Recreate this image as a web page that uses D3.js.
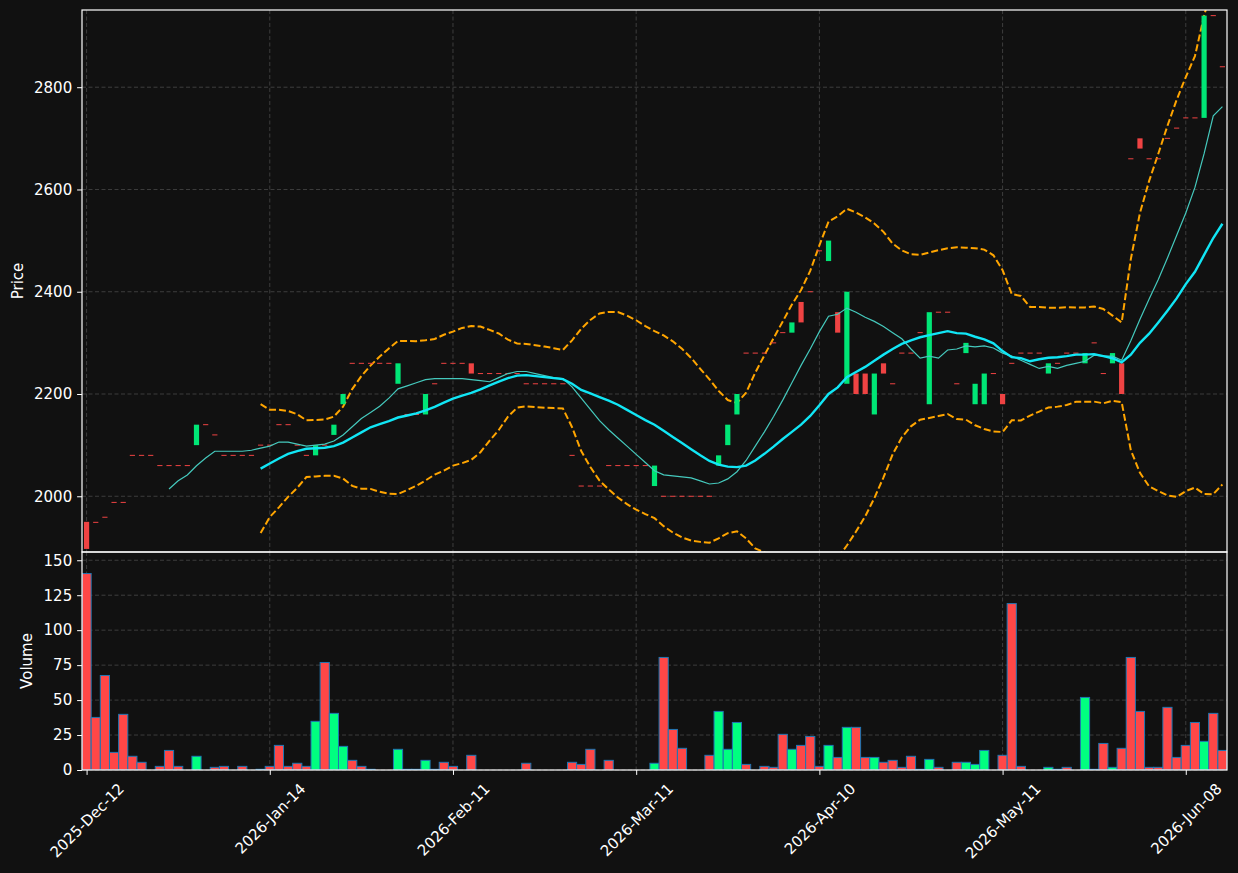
<!DOCTYPE html>
<html>
<head>
<meta charset="utf-8">
<script src="https://cdn.jsdelivr.net/npm/d3@7"></script>
<style>
  body { margin: 0; background: #111111; }
  svg { display: block; font-family: "DejaVu Sans", sans-serif; }
</style>
</head>
<body>
<div id="chart"></div>
<script>
// ---- data (one entry per trading bar) ----
const opens = [
  1950, 1949, 1959, 1988, 1988, 2080, 2080, 2080, 2060, 2060,
  2060, 2060, 2100, 2140, 2120, 2080, 2080, 2080, 2080, 2100,
  2100, 2140, 2140, 2100, 2080, 2080, 2100, 2120, 2180, 2260,
  2260, 2260, 2260, 2260, 2220, 2160, 2160, 2160, 2220, 2260,
  2260, 2260, 2260, 2240, 2240, 2240, 2240, 2240, 2220, 2220,
  2220, 2220, 2220, 2080, 2020, 2020, 2020, 2060, 2060, 2060,
  2060, 2060, 2020, 2000, 2000, 2000, 2000, 2000, 2000, 2060,
  2100, 2160, 2280, 2280, 2280, 2300, 2320, 2320, 2380, 2400,
  2480, 2460, 2360, 2220, 2240, 2240, 2160, 2260, 2220, 2280,
  2280, 2320, 2180, 2360, 2360, 2220, 2280, 2180, 2180, 2240,
  2200, 2260, 2280, 2280, 2280, 2240, 2260, 2280, 2280, 2260,
  2300, 2240, 2260, 2260, 2660, 2700, 2660, 2660, 2700, 2720,
  2740, 2740, 2740, 2940, 2840
];
const closes = [
  1897, 1949, 1959, 1988, 1988, 2080, 2080, 2080, 2060, 2060,
  2060, 2060, 2140, 2140, 2120, 2080, 2080, 2080, 2080, 2100,
  2100, 2140, 2140, 2100, 2080, 2100, 2100, 2140, 2200, 2260,
  2260, 2260, 2260, 2260, 2260, 2160, 2160, 2200, 2220, 2260,
  2260, 2260, 2240, 2240, 2240, 2240, 2240, 2240, 2220, 2220,
  2220, 2220, 2220, 2080, 2020, 2020, 2020, 2060, 2060, 2060,
  2060, 2060, 2060, 2000, 2000, 2000, 2000, 2000, 2000, 2080,
  2140, 2200, 2280, 2280, 2280, 2300, 2320, 2340, 2340, 2400,
  2480, 2500, 2320, 2400, 2200, 2200, 2240, 2240, 2220, 2280,
  2280, 2320, 2360, 2360, 2360, 2220, 2300, 2220, 2240, 2240,
  2180, 2260, 2280, 2280, 2280, 2260, 2260, 2280, 2280, 2280,
  2300, 2240, 2280, 2200, 2660, 2680, 2660, 2660, 2700, 2720,
  2740, 2740, 2940, 2940, 2840
];
const volumes = [
  140.5, 37.6, 67.6, 12.6, 39.8, 9.8, 5.5, 0, 2.6, 14,
  2.6, 0, 9.8, 0, 1.9, 2.6, 0, 2.6, 0, 0.5,
  2.6, 17.6, 2.6, 4.8, 2.6, 34.8, 76.9, 40.5, 16.9, 6.9,
  2.6, 0.5, 0, 0, 14.8, 0.5, 0.5, 6.9, 0.5, 5.5,
  2.6, 0, 10.5, 0, 0, 0, 0, 0, 4.8, 0,
  0, 0, 0, 5.5, 4, 14.8, 0, 6.9, 0, 0,
  0, 0, 4.8, 80.5, 29, 15.5, 0, 0, 10.5, 41.9,
  14.8, 34, 4, 0, 2.6, 1.9, 25.5, 14.8, 17.6, 24,
  2.6, 17.6, 9, 30.5, 30.5, 9, 9, 5.5, 6.9, 1.9,
  9.8, 0.5, 7.6, 1.9, 0, 5.5, 5.5, 4, 14, 0,
  10.5, 119, 2.6, 0, 0, 1.9, 0.5, 1.9, 0, 51.9,
  0.5, 19, 1.9, 15.5, 80.5, 41.9, 1.9, 1.9, 44.8, 9,
  17.6, 34, 20.5, 40.5, 14
];

// short moving average, first value sits on bar 9
const maShortStart = 9;
const maShort = [
  2014.1, 2030.4, 2041.5, 2059.6, 2074.8, 2088, 2088, 2088, 2088, 2090,
  2094, 2098, 2106, 2106, 2102, 2098, 2100, 2102, 2108, 2120,
  2136, 2152, 2164, 2176, 2192, 2210, 2216, 2222, 2228, 2230,
  2230, 2230, 2230, 2228, 2226, 2224, 2232, 2240, 2244, 2244,
  2240, 2236, 2232, 2230, 2214, 2192, 2170, 2148, 2130, 2114,
  2098, 2082, 2066, 2050, 2042, 2040, 2038, 2036, 2030, 2024,
  2026, 2034, 2048, 2070, 2098, 2126, 2156, 2188, 2222, 2256,
  2288, 2322, 2352, 2356, 2368, 2360, 2350, 2342, 2332, 2320,
  2308, 2288, 2270, 2274, 2270, 2286, 2288, 2294, 2292, 2294,
  2290, 2280, 2274, 2266, 2258, 2250, 2254, 2250, 2256, 2260,
  2264, 2276, 2274, 2274, 2266, 2304, 2346, 2386, 2424, 2466,
  2510, 2554, 2604, 2670, 2744, 2762
];

// long moving average and bands, first value sits on bar 19
const maLongStart = 19;
const maLong = [
  2054.1, 2064.2, 2073.8, 2082.8, 2088.4, 2093, 2094, 2095, 2098, 2105,
  2115, 2125, 2135, 2141, 2147, 2154, 2158, 2162, 2168, 2175,
  2183, 2191, 2197, 2202, 2209, 2217, 2224, 2231, 2236, 2237,
  2235, 2233, 2231, 2229, 2220, 2208, 2201, 2194, 2187, 2179,
  2169, 2159, 2149, 2140, 2128, 2116, 2104, 2092, 2080, 2069,
  2062, 2058, 2057, 2060, 2070, 2083, 2097, 2112, 2126, 2140,
  2157, 2178, 2200, 2213, 2233, 2243, 2253, 2265, 2277, 2288,
  2298, 2305, 2311, 2315, 2319, 2323, 2319, 2318, 2312, 2307,
  2299, 2284, 2272, 2270, 2264, 2268, 2271, 2272, 2274, 2277,
  2277, 2278, 2274, 2270, 2262, 2277, 2300, 2318, 2340, 2363,
  2387, 2415, 2439, 2472, 2505, 2533
];
const bandUpper = [
  2180.1, 2169.0, 2169.2, 2166.7, 2160.3, 2148.5, 2149.3, 2150.0, 2155.8, 2175.3,
  2209.6, 2235.2, 2255.6, 2273.3, 2289.1, 2303.7, 2303.8, 2303.4, 2305.1, 2307.6,
  2315.8, 2322.1, 2329.2, 2332.8, 2331.9, 2325.3, 2318.3, 2306.3, 2298.7, 2298.0,
  2295.5, 2292.7, 2289.6, 2286.2, 2304.9, 2327.6, 2344.9, 2357.5, 2360.6, 2360.3,
  2353.4, 2344.2, 2332.9, 2322.9, 2314.5, 2303.0, 2288.4, 2270.6, 2249.2, 2228.7,
  2206.2, 2188.2, 2182.4, 2202.5, 2241.8, 2275.8, 2309.1, 2341.9, 2374.9, 2403.5,
  2440.8, 2490.6, 2537.3, 2547.7, 2562.2, 2555.0, 2545.4, 2533.6, 2517.1, 2494.1,
  2480.8, 2473.2, 2472.2, 2476.9, 2481.2, 2485.1, 2487.0, 2486.2, 2485.2, 2482.4,
  2471.3, 2442.3, 2395.5, 2391.7, 2370.3, 2370.3, 2368.5, 2368.7, 2369.6, 2369.3,
  2369.3, 2370.9, 2366.2, 2353.4, 2339.9, 2463.9, 2554.2, 2616.8, 2669.8, 2724.4,
  2775.3, 2819.9, 2860.9, 2939.7, 3005.9, 3042.9
];
const bandLower = [
  1928.0, 1959.4, 1978.3, 1998.9, 2016.5, 2037.5, 2038.7, 2040.0, 2040.2, 2034.7,
  2020.4, 2014.8, 2014.4, 2008.7, 2004.9, 2004.3, 2012.2, 2020.6, 2030.9, 2042.4,
  2050.2, 2059.9, 2064.8, 2071.2, 2086.1, 2108.7, 2129.7, 2155.7, 2173.3, 2176.0,
  2174.5, 2173.3, 2172.4, 2171.8, 2135.1, 2088.4, 2057.1, 2030.5, 2013.4, 1997.7,
  1984.6, 1973.8, 1965.1, 1957.1, 1941.5, 1929.0, 1919.6, 1913.4, 1910.8, 1909.3,
  1917.8, 1927.8, 1931.6, 1917.5, 1898.2, 1890.2, 1884.9, 1882.1, 1877.1, 1876.5,
  1873.2, 1865.4, 1862.7, 1878.3, 1903.8, 1931.0, 1960.6, 1996.4, 2036.9, 2081.9,
  2115.2, 2136.8, 2149.8, 2153.1, 2156.8, 2160.9, 2151.0, 2149.8, 2138.8, 2131.6,
  2126.7, 2125.7, 2148.5, 2148.3, 2157.7, 2165.7, 2173.5, 2175.3, 2178.4, 2184.7,
  2184.7, 2185.1, 2181.8, 2186.6, 2184.1, 2090.1, 2045.8, 2019.2, 2010.2, 2001.6,
  1998.7, 2010.1, 2017.1, 2004.3, 2004.1, 2023.1
];

const dateTickBars = [0, 20, 40, 60, 80, 100, 120];
const dateTickLabels = ["2025-Dec-12", "2026-Jan-14", "2026-Feb-11", "2026-Mar-11",
                        "2026-Apr-10", "2026-May-11", "2026-Jun-08"];
const priceTicks = [2000, 2200, 2400, 2600, 2800];
const volumeTicks = [0, 25, 50, 75, 100, 125, 150];

// ---- layout ----
const W = 1238, H = 873;
const left = 82, right = 1227;
const pTop = 10, pBot = 552, vTop = 552, vBot = 770;
const fontSize = 15;
const tickLen = 4.9, tickPad = 4.9;

const upColor = "#00e676", downColor = "#ef4343";
const volUp = "#00ff80", volDown = "#ff4747";
const gridColor = "#3d3d3d";
const textColor = "#ffffff";

const svg = d3.select("#chart").append("svg")
    .attr("width", W)
    .attr("height", H);

svg.append("rect").attr("width", W).attr("height", H).attr("fill", "#111111");

const x = d3.scaleLinear().domain([-0.5, closes.length - 0.5]).range([left, right]);
const yP = d3.scaleLinear().domain([1891, 2951]).range([pBot, pTop]);
const yV = d3.scaleLinear().domain([0, 155.9]).range([vBot, vTop]);
const step = x(1) - x(0);

const defs = svg.append("defs");
defs.append("clipPath").attr("id", "clipP").append("rect")
    .attr("x", left).attr("y", pTop).attr("width", right - left).attr("height", pBot - pTop);
defs.append("clipPath").attr("id", "clipV").append("rect")
    .attr("x", left).attr("y", vTop).attr("width", right - left).attr("height", vBot - vTop);

// grid lines
function grid(g, yScale, ticks, y0, y1) {
    g.selectAll(".hg").data(ticks).enter().append("line")
        .attr("x1", left).attr("x2", right)
        .attr("y1", d => yScale(d)).attr("y2", d => yScale(d));
    g.selectAll(".vg").data(dateTickBars).enter().append("line")
        .attr("x1", d => x(d)).attr("x2", d => x(d))
        .attr("y1", y0).attr("y2", y1);
    g.selectAll("line")
        .attr("stroke", gridColor)
        .attr("stroke-width", 1)
        .attr("stroke-dasharray", "4,2.5");
}
grid(svg.append("g"), yP, priceTicks, pTop, pBot);
grid(svg.append("g"), yV, volumeTicks, vTop, vBot);

// ---- price panel ----
const pricePanel = svg.append("g").attr("clip-path", "url(#clipP)");

const lineFrom = start => d3.line()
    .x((d, i) => x(start + i))
    .y(d => yP(d));

pricePanel.append("path")
    .attr("d", lineFrom(maLongStart)(bandUpper))
    .attr("fill", "none").attr("stroke", "#ffa500")
    .attr("stroke-width", 2).attr("stroke-dasharray", "7,3");
pricePanel.append("path")
    .attr("d", lineFrom(maLongStart)(bandLower))
    .attr("fill", "none").attr("stroke", "#ffa500")
    .attr("stroke-width", 2).attr("stroke-dasharray", "7,3");

const bodyW = 5.2;
pricePanel.selectAll(".candle")
    .data(closes)
    .enter().append("rect")
    .attr("class", "candle")
    .attr("x", (d, i) => x(i) - bodyW / 2)
    .attr("width", bodyW)
    .attr("y", (d, i) => Math.min(yP(opens[i]), yP(d)) - (opens[i] === d ? 0.5 : 0))
    .attr("height", (d, i) => Math.max(Math.abs(yP(opens[i]) - yP(d)), 1))
    .attr("fill", (d, i) => d > opens[i] ? upColor : downColor);

pricePanel.append("path")
    .attr("d", lineFrom(maShortStart)(maShort))
    .attr("fill", "none").attr("stroke", "#45c9bd")
    .attr("stroke-width", 1.2);
pricePanel.append("path")
    .attr("d", lineFrom(maLongStart)(maLong))
    .attr("fill", "none").attr("stroke", "#11e6f5")
    .attr("stroke-width", 2.4);

// ---- volume panel ----
const volPanel = svg.append("g").attr("clip-path", "url(#clipV)");
volPanel.selectAll(".vbar")
    .data(volumes)
    .enter().append("rect")
    .attr("class", "vbar")
    .attr("display", d => d > 0 ? null : "none")
    .attr("x", (d, i) => x(i) - step / 2)
    .attr("width", step)
    .attr("y", d => yV(d))
    .attr("height", d => vBot - yV(d))
    .attr("fill", (d, i) => closes[i] > opens[i] ? volUp : volDown)
    .attr("stroke", "#1f77b4")
    .attr("stroke-width", 1);

// ---- axes ----
function styleAxis(g) {
    g.select(".domain").remove();
    g.selectAll(".tick line").attr("stroke", "#ffffff").attr("stroke-width", 1);
    g.selectAll(".tick text").attr("fill", textColor).style("font-size", fontSize + "px")
        .style("font-family", "DejaVu Sans, sans-serif");
}

svg.append("g")
    .attr("transform", `translate(${left},0)`)
    .call(d3.axisLeft(yP).tickValues(priceTicks).tickSize(tickLen).tickPadding(tickPad)
        .tickFormat(d3.format("d")))
    .call(styleAxis);

svg.append("g")
    .attr("transform", `translate(${left},0)`)
    .call(d3.axisLeft(yV).tickValues(volumeTicks).tickSize(tickLen).tickPadding(tickPad)
        .tickFormat(d3.format("d")))
    .call(styleAxis);

// date labels: rotated 45 degrees, centred under the tick
const xAxis = svg.append("g")
    .attr("transform", `translate(0,${vBot})`)
    .call(d3.axisBottom(x).tickValues(dateTickBars).tickSize(tickLen)
        .tickFormat((d, i) => dateTickLabels[i]))
    .call(styleAxis);
xAxis.selectAll(".tick text")
    .attr("text-anchor", "middle")
    .attr("y", null)
    .attr("dy", "0.35em")
    .attr("transform", function () {
        const w = this.getComputedTextLength();
        const h = fontSize * 1.17;
        return `translate(0,${tickLen + tickPad + (w + h) * 0.3536}) rotate(-45)`;
    });

// frames
[[pTop, pBot], [vTop, vBot]].forEach(([t, b]) => {
    svg.append("rect")
        .attr("x", left).attr("y", t)
        .attr("width", right - left).attr("height", b - t)
        .attr("fill", "none").attr("stroke", "#ffffff").attr("stroke-width", 1.2);
});

// axis titles
svg.append("text")
    .attr("transform", `translate(23,${(pTop + pBot) / 2}) rotate(-90)`)
    .attr("text-anchor", "middle")
    .attr("fill", textColor)
    .style("font-size", fontSize + "px")
    .text("Price");
svg.append("text")
    .attr("transform", `translate(32,${(vTop + vBot) / 2}) rotate(-90)`)
    .attr("text-anchor", "middle")
    .attr("fill", textColor)
    .style("font-size", fontSize + "px")
    .text("Volume");
</script>
</body>
</html>
